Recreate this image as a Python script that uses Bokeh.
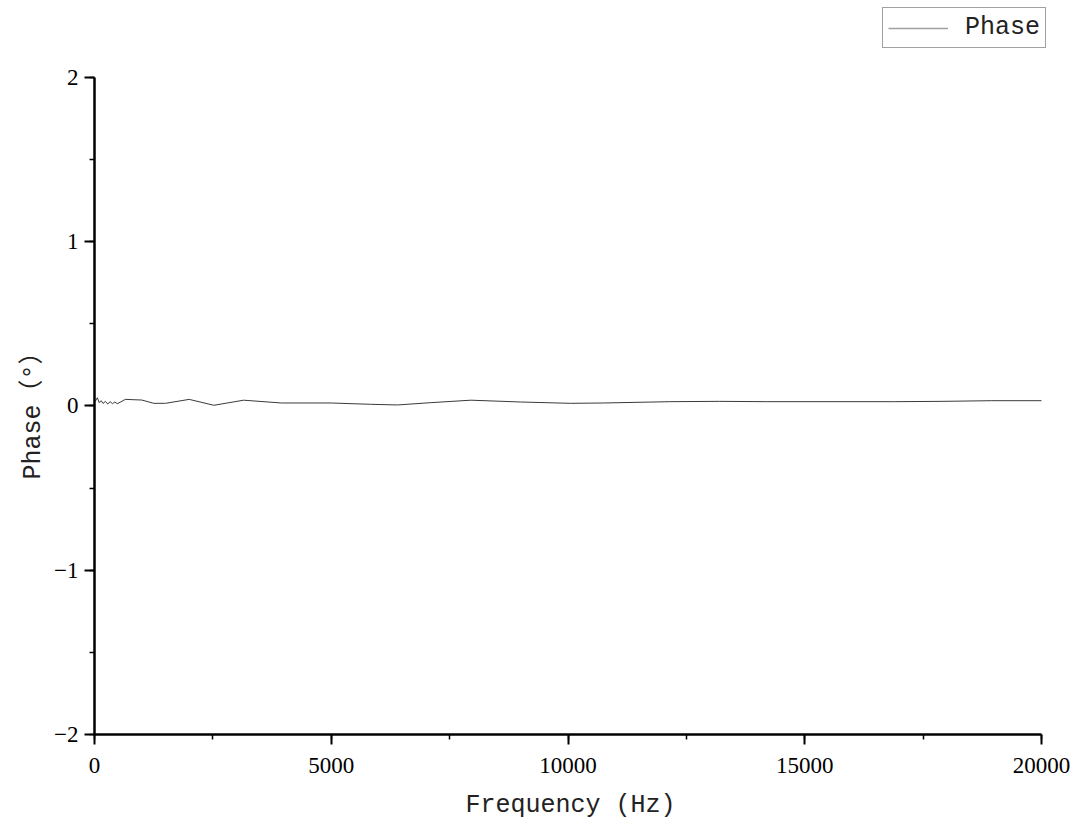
from bokeh.plotting import figure
from bokeh.models import Range1d, SingleIntervalTicker, Legend, LegendItem, ColumnDataSource, Title
from bokeh.embed import file_html
from bokeh.resources import INLINE

freq = [20, 60, 100, 140, 180, 230, 280, 330, 380, 430, 480, 540, 650, 1000, 1250, 1500,
        2000, 2520, 3150, 3950, 5000, 5830, 6400, 7100, 7950, 9000, 10050, 10750, 12150,
        13200, 14200, 16900, 17900, 18950, 20000]
phase = [0.03, 0.05, 0.02, 0.032, 0.015, 0.028, 0.012, 0.026, 0.014, 0.024, 0.014, 0.022,
         0.04, 0.036, 0.016, 0.016, 0.04, 0.004, 0.035, 0.018, 0.018, 0.01, 0.006, 0.02,
         0.035, 0.024, 0.016, 0.018, 0.026, 0.028, 0.026, 0.026, 0.028, 0.032, 0.032]
series_name = "Phase"
x_title = "Frequency (Hz)"
y_title = "Phase（°）"
x_axis_span = (0, 20000)
y_axis_span = (-2, 2)

W, H = 1077, 822
left, right_px, top, bottom = 94, 1046, 0, 735
# frame extends beyond the axis spans so the legend can sit above the plotting area
x_end = x_axis_span[1] * (right_px - left) / (1041 - left)
y_end = y_axis_span[0] + (y_axis_span[1] - y_axis_span[0]) * (bottom - top) / (bottom - 77)

p = figure(width=W, height=H, output_backend="svg", toolbar_location=None,
           x_range=Range1d(0, x_end), y_range=Range1d(-2, y_end),
           min_border_left=left, min_border_right=W - right_px, min_border_top=top,
           min_border_bottom=H - bottom)
p.outline_line_color = None
p.xgrid.visible = False
p.ygrid.visible = False
p.background_fill_color = "white"
p.border_fill_color = "white"

src = ColumnDataSource(dict(x=freq, y=phase))
p.line("x", "y", source=src, line_color="#3a3a3a", line_width=1)
swatch = p.line(x=[float("nan")], y=[float("nan")], line_color="#a0a0a0", line_width=1.5)

p.xaxis.ticker = SingleIntervalTicker(interval=5000, num_minor_ticks=2)
p.yaxis.ticker = SingleIntervalTicker(interval=1, num_minor_ticks=2)
p.xaxis.bounds = x_axis_span
p.yaxis.bounds = y_axis_span
p.yaxis.major_label_overrides = {-2: "−2", -1: "−1"}

tick_font = "Liberation Serif"
title_font = "'Liberation Mono', 'Noto Sans CJK SC'"
for ax in (p.xaxis[0], p.yaxis[0]):
    ax.axis_line_width = 2.5
    ax.axis_line_color = "black"
    ax.major_tick_line_width = 2
    ax.minor_tick_line_width = 1.5
    ax.major_tick_line_color = "black"
    ax.minor_tick_line_color = "black"
    ax.major_tick_in = 0
    ax.major_tick_out = 10
    ax.minor_tick_in = 0
    ax.minor_tick_out = 5
    ax.major_label_text_font = tick_font
    ax.major_label_text_font_size = "23px"
    ax.major_label_text_color = "black"
    ax.axis_label_text_font = title_font
    ax.axis_label_text_font_size = "25px"
    ax.axis_label_text_font_style = "normal"
    ax.axis_label_text_color = "#222222"

p.xaxis.axis_label = x_title
p.xaxis.major_label_standoff = 13
p.yaxis.major_label_standoff = 6
p.xaxis.axis_label_standoff = 15

# y-axis title placed along the axis span (not the extended frame)
ytitle = Title(text=y_title, align="left", text_font=title_font, text_font_size="25px",
               text_font_style="normal", text_color="#222222", offset=255, standoff=7)
p.add_layout(ytitle, "left")

legend = Legend(items=[LegendItem(label=series_name, renderers=[swatch])],
                location=(882 - left, bottom - 49))
legend.border_line_color = "#444444"
legend.border_line_width = 1
legend.background_fill_color = "white"
legend.background_fill_alpha = 1
legend.label_text_font = title_font
legend.label_text_font_size = "25px"
legend.label_text_color = "#222222"
legend.glyph_width = 60
legend.glyph_height = 20
legend.label_standoff = 17
legend.padding = 5
legend.margin = 0
legend.spacing = 0
p.add_layout(legend, "center")

open("out.html", "w").write(file_html(p, INLINE))
